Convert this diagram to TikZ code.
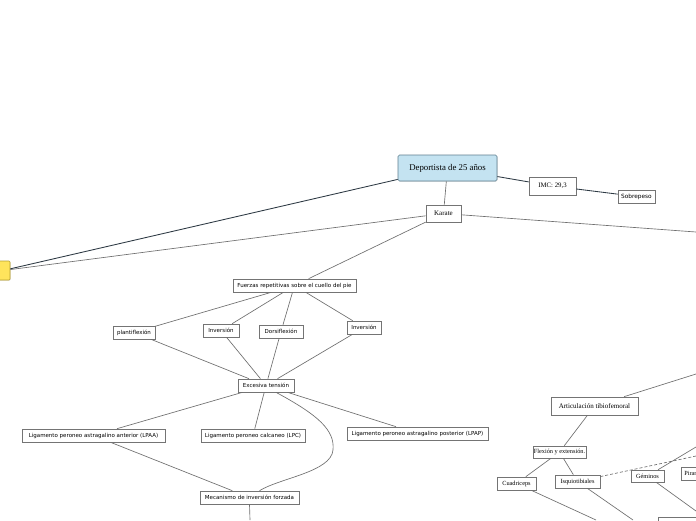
\documentclass[tikz,border=0pt]{standalone}
\usepackage{fontspec}
\setmainfont{Liberation Serif}
\newfontfamily\sansf{DejaVu Sans}
\usetikzlibrary{shadows,calc}
\definecolor{rootblue}{HTML}{C4E3F1}
\definecolor{rootborder}{HTML}{5E7F90}
\definecolor{boxgray}{HTML}{747474}
\definecolor{linegray}{HTML}{6E6E6E}
\definecolor{darkline}{HTML}{2E3A44}
\definecolor{yellowfill}{HTML}{FFE45C}
\definecolor{yellowborder}{HTML}{B8A030}
\begin{document}
\begin{tikzpicture}[x=1pt,y=-1pt,
  box/.style={draw=boxgray, fill=white, line width=0.65pt, inner sep=0pt, minimum height=13pt,
    drop shadow={shadow xshift=0.5pt,shadow yshift=-0.7pt,fill=black!30}},
  sbox/.style={box, font=\sansf\fontsize{5.5}{6.5}\selectfont},
  rbox/.style={box, font=\fontsize{7}{8}\selectfont},
  small/.style={font=\fontsize{6.3}{7}\selectfont},
  link/.style={draw=linegray, line width=0.65pt},
  dlink/.style={draw=darkline, line width=0.85pt}]
\useasboundingbox (0,0) rectangle (696,520);
\fill[white] (0,0) rectangle (696,520);
\clip (0,0) rectangle (696,520);

% nodes
\node[box, draw=rootborder, fill=rootblue, rounded corners=1.5pt, minimum width=99pt, minimum height=26pt,
  font=\fontsize{8.8}{10}\selectfont] (root) at (447.5,168) {Deportista de 25 años};
\node[rbox, minimum width=47pt, minimum height=18pt, font=\fontsize{6.8}{8}\selectfont] (imc) at (552.5,186) {IMC: 29,3};
\node[sbox, minimum width=37pt, font=\sansf\fontsize{5.8}{6.5}\selectfont] (sob) at (636.5,196.5) {Sobrepeso};
\node[rbox, minimum width=35pt, minimum height=17pt] (karate) at (443.5,213.5) {Karate};
\node[box, draw=yellowborder, fill=yellowfill, rounded corners=1pt, minimum width=14pt, minimum height=19pt] (yel) at (3,270.5) {};

\node[sbox, minimum width=123pt] (fuerzas) at (294.5,285.5) {Fuerzas repetitivas sobre el cuello del pie};
\node[sbox, minimum width=42pt] (plant) at (134,332.5) {plantiflexión};
\node[sbox, minimum width=36pt] (inva) at (221,330.5) {Inversión};
\node[sbox, minimum width=44pt] (dors) at (281,331.5) {Dorsiflexión};
\node[sbox, minimum width=34pt] (invb) at (364,327.5) {Inversión};
\node[sbox, minimum width=56pt] (exc) at (266,385.5) {Excesiva tensión};
\node[sbox, minimum width=143pt] (lpaa) at (93.5,435.5) {Ligamento peroneo astragalino anterior (LPAA)};
\node[sbox, minimum width=104pt] (lpc) at (253,435.5) {Ligamento peroneo calcaneo (LPC)};
\node[sbox, minimum width=141pt] (lpap) at (417.5,433.5) {Ligamento peroneo astragalino posterior (LPAP)};
\node[sbox, minimum width=99pt] (mec) at (249.5,497.5) {Mecanismo de inversión forzada};

\node[rbox, minimum width=87pt, minimum height=18pt] (art) at (594.5,406) {Articulación tibiofemoral};
\node[rbox, minimum width=53pt, minimum height=12pt, small] (flex) at (559.5,452) {Flexión y extensión.};
\node[rbox, minimum width=39pt, small] (cuad) at (516.5,483.5) {Cuadriceps};
\node[rbox, minimum width=45pt, small] (isq) at (577.5,481.5) {Isquiotibiales};
\node[rbox, minimum width=33pt, minimum height=12pt, small] (gem) at (647.5,476) {Géminos};
\node[rbox, small, anchor=west, inner xsep=3pt] (pira) at (681,473.5) {Piramidal};
\node[rbox, minimum width=80pt, minimum height=18pt, anchor=north west] (brbox) at (658,517) {};

% free ends
\coordinate (kR) at (696,232);
\coordinate (artR) at (696,374);
\coordinate (cuadD) at (596,520);
\coordinate (isqD) at (633,520);
\coordinate (isqR) at (696,456);
\coordinate (gemU) at (696,447);
\coordinate (gemD) at (696,511);
\coordinate (mecD) at (250,520);

% connectors
\draw[dlink] (root) -- (yel);
\draw[link] (karate) -- (yel);
\draw[dlink] (root) -- (imc);
\draw[dlink] (imc) -- (sob);
\draw[link] (root) -- (karate);
\draw[link] (karate) -- (kR);
\draw[link] (karate) -- (fuerzas);
\draw[link] (fuerzas) -- (plant);
\draw[link] (fuerzas) -- (inva);
\draw[link] (fuerzas) -- (dors);
\draw[link] (fuerzas) -- (invb);
\draw[link] (plant) -- (exc);
\draw[link] (inva) -- (exc);
\draw[link] (dors) -- (exc);
\draw[link] (invb) -- (exc);
\draw[link] (exc) -- (lpaa);
\draw[link] (exc) -- (lpc);
\draw[link] (exc) -- (lpap);
\draw[link] ($(exc.south)+(10,0)$) .. controls (318,415) and (335,430) .. (333,450)
  .. controls (331,472) and (280,478) .. ($(mec.north)+(10,0)$);
\draw[link] (lpaa) -- (mec);
\draw[link] (mec.south) -- (mecD);

\draw[link] (art) -- (artR);
\draw[link] (art) -- (flex);
\draw[link] (flex) -- (cuad);
\draw[link] (flex) -- (isq);
\draw[link] (cuad) -- (cuadD);
\draw[link] (isq) -- (isqD);
\draw[link, dash pattern=on 3pt off 2pt] (isq) -- (isqR);
\draw[link] (gem) -- (gemU);
\draw[link] (gem) -- (gemD);
\end{tikzpicture}
\end{document}
